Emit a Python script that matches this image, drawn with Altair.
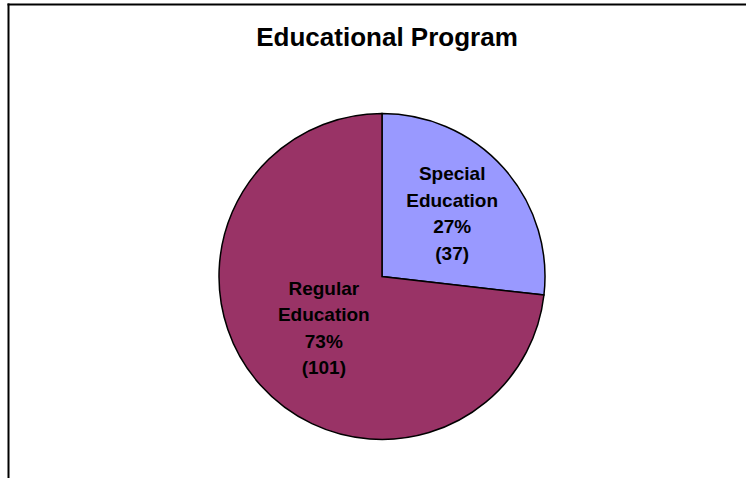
import altair as alt
import pandas as pd

# ---- data ----
CATEGORIES = ["Special Education", "Regular Education"]
COUNTS = [37, 101]
COLORS = ["#9999FF", "#993366"]
TITLE = "Educational Program"

total = sum(COUNTS)
labels = [
    c.replace(" ", "\n") + f"\n{round(100 * v / total)}%\n({v})"
    for c, v in zip(CATEGORIES, COUNTS)
]
df = pd.DataFrame({
    "category": CATEGORIES,
    "count": COUNTS,
    "rank": list(range(len(CATEGORIES))),
    "label": labels,
})

CX, CY, R = 382, 276.5, 163
FONT = "Liberation Sans"
LH = 26.5

base = alt.Chart(df).encode(
    theta=alt.Theta("count:Q", stack=True),
    order=alt.Order("rank:O"),
    x=alt.value(CX),
    y=alt.value(CY),
)

pie = base.mark_arc(outerRadius=R, stroke="black", strokeWidth=1.5).encode(
    color=alt.Color(
        "category:N",
        scale=alt.Scale(domain=CATEGORIES, range=COLORS),
        legend=None,
    )
)

text = base.mark_text(
    radius=alt.expr("datum.rank == 0 ? 94 : 78"),
    dy=-1.5 * LH,
    font=FONT, fontSize=19, fontWeight="bold", lineBreak="\n",
    lineHeight=LH, align="center", baseline="middle", color="black",
).encode(
    text="label:N",
)

one = pd.DataFrame({"t": [TITLE]})
title = alt.Chart(one).mark_text(
    font=FONT, fontSize=26, fontWeight="bold", align="center",
    baseline="alphabetic", color="black",
).encode(x=alt.value(387), y=alt.value(46), text="t:N")

top_border = alt.Chart(one).mark_rule(color="black", strokeWidth=2).encode(
    x=alt.value(7.5), x2=alt.value(746), y=alt.value(4.5)
)
left_border = alt.Chart(one).mark_rule(color="black", strokeWidth=2).encode(
    x=alt.value(8.5), y=alt.value(3.5), y2=alt.value(478)
)

chart = alt.layer(pie, text, title, top_border, left_border).properties(
    width=746, height=478,
    autosize=alt.AutoSizeParams(type="none"),
    padding=0,
    background="white",
).configure_view(stroke=None)

chart.save("out.html", embed_options={"renderer": "svg", "actions": False})
